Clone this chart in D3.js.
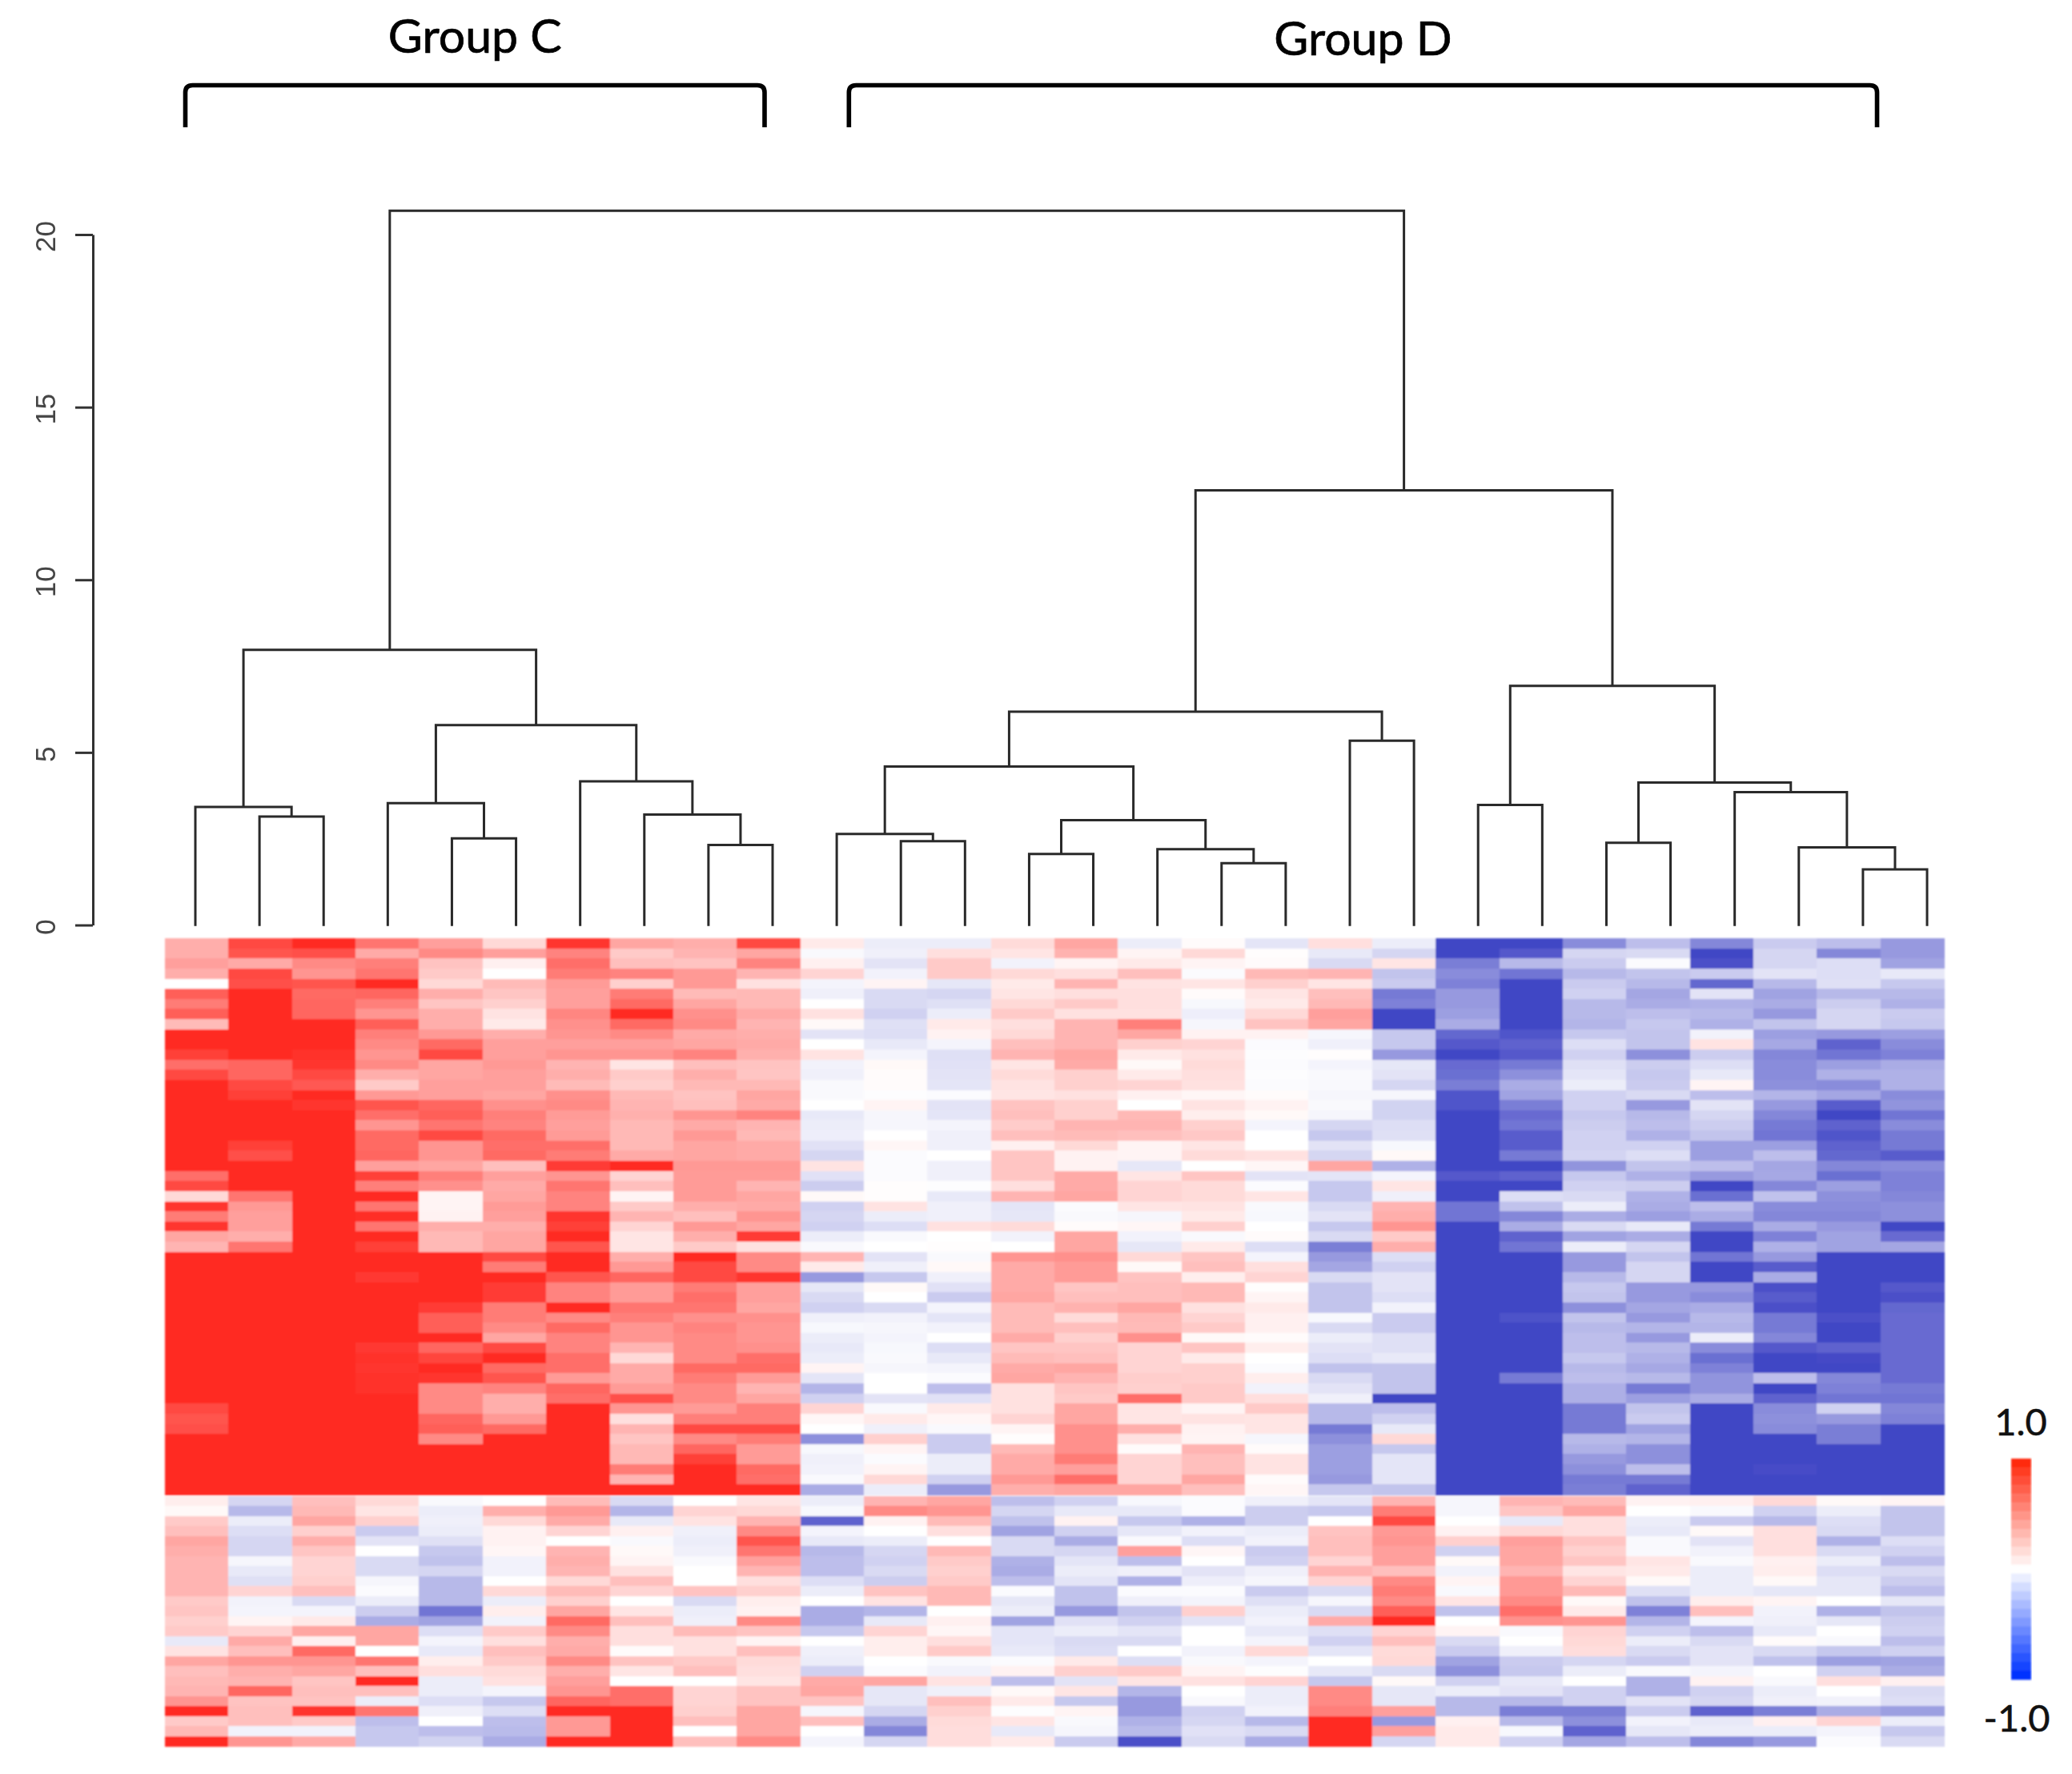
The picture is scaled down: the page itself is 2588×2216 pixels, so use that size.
<!DOCTYPE html>
<html>
<head>
<meta charset="utf-8">
<script src="https://cdnjs.cloudflare.com/ajax/libs/d3/7.8.5/d3.min.js"></script>
<style>html,body{margin:0;padding:0;background:#fff}svg{display:block}</style>
</head>
<body>
<svg id="chart"></svg>
<script>
// Heatmap values, one array per column: 55 rows of the upper block, then 25 of the lower block.
const c00=[.38,.38,.45,.38,0, .75,.62,.75,.32,1, 1,.9,.68,.85,1, 1,1,1,1,1, 1,1,1,.68,.85, .18,.95,.62,.95,.42, .35,1,1,1,1, 1,1,1,1,1, 1,1,1,1,1, 1,.85,.8,.82,1, 1,1,1,1,1,
 .08,.03,.25,.3,.42, .38,.35,.35,.35,.35, .25,.27,.22,.25,-.12, .13,.42,.3,.33,.35, .5,1,.25,.33,1];
const c01=[.85,.8,.4,.85,.82, 1,1,1,1,1, 1,1,.72,.72,.85, .9,1,1,1,1, .9,.82,1,1,1, .65,.48,.45,.45,.38, .65,1,1,1,1, 1,1,1,1,1, 1,1,1,1,1, 1,1,1,1,1, 1,1,1,1,1,
 -.22,-.38,-.1,-.18,-.22, -.22,-.05,-.12,-.17,.2, -.07,-.06,.05,.2,.4, .3,.5,.38,.35,.72, .28,.3,.3,-.07,.5];
const c02=[1,.82,.55,.5,.8, .7,.72,.72,1,1, 1,.97,.95,.85,.78, 1,.95,1,1,1, 1,1,1,1,1, 1,1,1,1,1, 1,1,1,1,1, 1,1,1,1,1, 1,1,1,1,1, 1,1,1,1,1, 1,1,1,1,1,
 .3,.33,.42,.22,.38, .27,.2,.2,.22,.3, -.2,-.06,.1,.42,.07, .7,.5,.42,.27,.3, .28,.95,.25,-.07,.4];
const c03=[.65,.4,.6,.65,1, .72,.6,.5,.75,.6, .55,.5,.55,.38,.25, .48,.8,.68,.5,.7, .7,.72,.45,.9,.6, 1,.65,.98,.65,1, .9,1,1,.93,1, 1,1,1,1,1, .93,.97,.95,.97,.97, 1,1,1,1,1, 1,1,1,1,1,
 .18,.12,.22,-.28,-.15, 0,-.2,-.2,-.05,-.02, -.1,-.27,-.45,.42,.42, 0,.65,.3,1,.3, -.1,.65,-.35,-.3,-.3];
const c04=[.45,.55,.28,.25,.18, .38,.27,.38,.38,.48, .7,.85,.42,.42,.45, .45,.72,.75,.65,.85, .5,.5,.42,.6,.52, .05,.05,.06,.38,.33, .33,1,1,1,1, 1,.92,.75,.75,1, .72,.88,1,.95,.55, .55,.55,.72,.75,.55, 1,1,1,1,1,
 -.03,-.1,-.08,-.1,-.17, -.3,-.33,-.22,-.38,-.38, -.38,-.75,-.5,-.18,-.06, -.12,.08,.15,-.1,-.1, -.18,-.08,0,-.35,-.24];
const c05=[.18,.45,.07,0,.32, .27,.22,.13,.1,.38, .45,.45,.48,.45,.45, .42,.52,.6,.58,.7, .68,.7,.3,.45,.4, .42,.47,.45,.38,.42, .42,.85,.62,1,.92, .92,.62,.62,.55,.42, .85,1,.7,.8,.58, .38,.38,.48,.7,1, 1,1,1,1,1,
 0,.38,.18,.06,.06, .04,-.07,-.07,0,.18, -.1,.08,-.07,.25,.15, .3,.25,.17,.14,-.06, -.3,-.18,-.35,-.37,-.45];
const c06=[.95,.58,.68,.62,.47, .45,.45,.57,.52,.5, .45,.5,.35,.38,.32, .52,.55,.47,.45,.47, .68,.62,.92,.5,.65, .58,.58,.95,.9,1, .8,1,1,.8,.58, .58,1,.55,.7,.58, .58,.68,.68,.47,.72, .68,1,1,1,1, 1,1,1,1,1,
 .32,.48,.4,.2,0, .35,.38,.35,.18,.32, .22,.42,.7,.55,.38, .4,.55,.38,.45,.5, .72,1,.48,.48,1];
const c07=[.42,.25,.3,.58,.22, .62,.7,1,.7,.55, .45,.5,.12,.25,.22, .33,.35,.37,.33,.33, .33,.4,1,.2,.3, .05,.25,.35,.2,.12, .12,.38,.48,.72,.47, .47,.65,.6,.5,.5, .35,.18,.4,.4,.47, .82,.5,.15,.35,.27, .33,.33,.62,.35,1,
 -.2,-.4,-.12,.07,-.03, .03,.05,.14,.3,.2, 0,.12,.3,.15,.15, .02,.28,.12,0,.68, .68,1,1,1,1];
const c08=[.38,.35,.28,.48,.48, .32,.42,.52,.55,.4, .42,.58,.3,.38,.33, .28,.3,.5,.4,.48, .42,.42,.48,.47,.47, .47,.38,.3,.48,.38, .25,1,.85,.85,.62, .68,.65,.52,.58,.55, .55,.55,.7,.62,.55, .55,.47,.6,.85,.55, .72,.9,1,1,1,
 0,.2,.13,-.08,-.1, -.08,-.03,0,0,.28, -.2,-.1,-.08,.32,.14, .14,.25,.3,0,.2, .2,.22,.3,0,.3];
const c09=[.85,.42,.58,.35,.14, .33,.33,.4,.35,.38, .4,.37,.28,.27,.33, .42,.4,.58,.35,.33, .4,.4,.48,.47,.35, .42,.4,.5,.42,.92, .14,.55,.55,.95,.45, .45,.42,.52,.5,.5, .52,.68,.7,.47,.35, .42,.6,.6,.85,.62, .47,.47,.7,.68,1,
 .12,.18,.35,.55,.8, .65,.45,.35,.15,.22, .08,.06,.55,.28,.05, .3,.17,.15,.12,.28, .28,.42,.42,.42,.55];
const c10=[.1,-.03,.07,.2,-.06, -.08,0,.14,.03,-.15, 0,.13,-.07,-.08,-.03, -.03,0,-.12,-.1,-.09, -.16,-.22,.13,-.16,-.27, .03,-.25,-.22,-.25,-.1, -.03,.35,.1,-.55,-.13, -.2,-.25,-.08,-.04,-.1, -.12,-.1,.05,-.14,-.4, -.25,.2,.04,0,-.6, -.04,-.08,-.07,-.03,-.45,
 -.1,-.04,-.85,-.06,-.12, -.38,-.35,-.35,-.18,-.1, 0,-.45,-.45,-.3,0, -.08,-.1,-.25,.4,.42, .28,-.05,.3,0,-.06];
const c11=[-.1,-.08,-.15,-.07,.05, -.2,-.2,-.25,-.17,-.18, -.12,-.06,.03,.02,.02, -.01,.05,-.05,-.05,0, .04,-.02,-.02,-.02,.01, .01,.13,-.1,-.18,-.03, 0,-.15,-.08,-.3,.03, 0,-.2,-.07,-.05,-.06, -.04,-.03,-.05,0,0, -.15,-.03,.1,-.08,.22, .05,-.02,.05,.18,-.1,
 .35,.55,.06,0,-.1, -.22,-.25,-.2,-.27,.28, .13,-.4,-.12,.2,.08, .08,0,-.02,.42,-.13, -.13,-.22,-.45,-.65,-.22];
const c12=[-.1,.15,.25,.25,-.13, -.22,-.17,-.1,.1,.06, -.06,-.17,-.16,-.15,-.14, -.02,-.15,-.14,-.06,-.08, -.08,0,-.08,-.08,-.01, -.12,-.08,-.08,.14,0, .01,-.03,.03,-.08,-.16, -.28,-.06,-.14,-.07,0, -.18,-.12,-.06,-.02,-.35, -.16,.1,.04,-.03,-.28, -.28,-.1,-.1,-.25,-.55,
 .42,.5,.32,.15,0, .33,.25,.22,.25,.33, .33,0,.07,.04,.15, .25,-.03,-.07,.13,-.08, .3,.22,.17,.16,.16];
const c13=[.17,.12,-.07,.18,.1, .12,.18,.25,.15,.18, .3,.35,.12,.17,.13, .12,.28,.3,.24,.3, .07,.27,.27,.27,.15, .35,-.14,-.13,.17,-.07, 0,.5,.4,.4,.4, .42,.32,.32,.32,.4, .27,.32,.4,.42,.14, .14,.14,.2,.05,.01, .33,.4,.4,.48,.38,
 -.35,-.22,-.33,-.5,-.2, -.2,-.42,-.45,-.35,-.02, -.13,-.1,-.5,-.14,-.14, -.12,-.02,.06,-.35,.03, .1,-.01,.12,-.12,.1];
const c14=[.42,.36,.05,.15,.35, .15,.25,.14,.35,.35, .35,.42,.4,.22,.22, .14,.22,.22,.35,.32, .18,.06,.06,.4,.4, .42,-.02,-.03,.02,.42, .42,.52,.47,.47,.27, .3,.36,.17,.3,.22, .27,.3,.42,.35,.27, .25,.42,.42,.52,.52, .52,.62,.45,.68,.42,
 -.25,-.12,.06,-.25,-.45, -.22,-.14,-.1,-.14,-.33, -.33,-.55,-.16,-.1,-.2, -.18,.1,.22,-.15,.12, -.3,.05,-.03,-.05,-.28];
const c15=[-.1,.05,.1,.3,.13, .15,.15,.14,.6,.42, .22,.1,.03,.1,.2, .07,0,.33,.35,.3, .05,.05,-.13,.12,.2, .2,.12,-.05,.04,-.07, -.13,.18,.03,.28,.3, .3,.42,.33,.32,.52, .2,.2,.2,.23,.22, .68,.12,.12,.38,.14, .02,.2,.2,.2,.42,
 -.04,-.12,-.3,-.13,-.03, .45,-.35,-.08,-.42,-.02, -.08,-.32,-.25,-.14,-.2, 0,-.18,.25,.12,-.4, -.55,-.55,-.42,-.37,-.95];
const c16=[.02,.18,.05,-.02,.12, .02,-.04,-.09,-.05,.06, .2,.14,.17,.15,.14, .04,.13,.08,.22,.26, .12,.17,0,.27,.17, .17,.13,.1,.22,-.03, .1,.27,.3,.08,.33, .33,.14,.2,.25,.03, .27,.1,.22,.22,.25, .25,.05,.13,.06,.05, .35,.3,.3,.42,.3,
 -.02,-.02,-.42,-.07,-.18, .04,0,-.15,-.09,-.02, -.06,.22,-.15,0,0, -.07,-.03,.05,.14,0, -.03,-.25,-.22,-.16,-.2];
const c17=[-.14,.01,.02,.33,.22, .12,.1,.18,.28,.06, -.02,-.01,-.02,-.01,-.02, .02,.06,.03,-.06,0, 0,.14,.04,-.15,-.02, .12,-.03,-.04,0,.02, -.18,-.06,.15,.2,.01, .05,.1,.07,.07,.02, .08,0,-.02,.08,-.07, .15,.25,.12,.12,-.05, .02,.13,.13,.02,.04,
 -.08,-.27,-.27,-.1,-.07, -.28,-.25,-.08,-.05,-.28, -.17,-.1,-.07,-.12,-.06, .18,-.06,-.01,.2,-.1, -.1,-.07,-.38,-.2,-.45];
const c18=[.15,-.12,-.2,.35,.12, .3,.33,.45,.42,-.05, -.08,.01,-.06,-.03,-.03, -.05,-.03,-.05,-.22,-.3, -.15,-.22,.42,-.14,-.3, -.3,-.2,-.15,-.3,-.2, -.7,-.55,-.48,-.2,-.32, -.32,-.32,-.04,-.2,-.1, -.15,-.18,-.33,-.2,-.15, -.08,-.38,-.38,-.72,-.6, -.52,-.52,-.52,-.55,-.3,
 -.14,-.3,0,.28,.3, .3,.2,.35,.2,-.2, -.05,-.2,.4,-.17,-.25, -.14,0,-.12,-.3,.55, .55,.6,1,1,1];
const c19=[-.1,-.22,.12,-.32,-.28, -.72,-.68,-1,-1,-.3, -.3,-.55,-.13,-.15,-.22, -.05,-.24,-.24,-.18,-.17, -.04,.03,-.42,-.06,.12, -.08,.35,.38,.5,.25, .38,-.18,-.25,-.15,-.15, -.18,-.07,-.28,-.28,-.17, -.17,-.12,-.32,-.32,-.32, -1,-.35,-.25,-.12,.18, -.3,-.14,-.14,-.14,-.32,
 .35,.62,.85,.48,.5, .45,.45,.3,.55,.62, .55,.75,1,.2,.3, .17,.18,-.2,.03,-.13, -.13,.45,-.55,.45,-.22];
const c20=[-1,-1,-.7,-.62,-.68, -.55,-.55,-.52,-.45,-.82, -.9,-1,-.8,-.78,-.7, -.92,-.92,-1,-1,-1, -1,-1,-1,-.9,-1, -1,-.75,-.75,-1,-1, -1,-1,-1,-1,-1, -1,-1,-1,-1,-1, -1,-1,-1,-1,-1, -1,-1,-1,-1,-1, -1,-1,-1,-1,-1,
 -.05,-.05,0,.06,.22, -.25,.03,-.07,.05,-.03, .12,-.33,0,.05,-.2, -.28,-.5,-.6,-.25,-.1, -.38,-.38,.07,.1,.1];
const c21=[-1,-.9,-.38,-.75,-1, -1,-1,-1,-1,-.92, -.85,-.9,-.72,-.6,-.45, -.5,-.7,-.8,-.75,-.88, -.88,-.72,-1,-.85,-1, -.18,-.33,-.65,-.45,-.85, -.75,-1,-1,-1,-1, -1,-1,-.93,-1,-1, -1,-1,-1,-.72,-1, -1,-1,-1,-1,-1, -1,-1,-1,-1,-1,
 .35,.27,-.12,.18,.45, .42,.42,.35,.48,.48, .55,.68,.52,-.03,0, -.08,-.28,-.3,-.12,-.15, -.38,-.7,-.38,-.04,-.25];
const c22=[-.62,-.22,-.28,-.38,-.28, -.25,-.38,-.38,-.4,-.3, -.18,-.25,-.17,-.14,-.1, -.25,-.25,-.3,-.27,-.25, -.25,-.23,-.58,-.3,-.25, -.2,-.1,-.45,-.2,-.5, -.1,-.55,-.55,-.38,-.3, -.32,-.6,-.32,-.38,-.35, -.35,-.3,-.38,-.35,-.43, -.43,-.72,-.72,-.72,-.38, -.42,-.55,-.6,-.72,-.7,
 .32,.42,.15,.15,.27, .22,.27,.12,.2,.33, .03,.1,.5,.2,.18, .16,-.22,-.1,0,-.25, -.25,-.7,-.6,-.85,-.48];
const c23=[-.35,-.2,-.02,-.32,-.38, -.48,-.45,-.35,-.3,-.32, -.32,-.6,-.27,-.3,-.28, -.2,-.55,-.38,-.35,-.42, -.25,-.18,-.32,-.42,-.27, -.42,-.45,-.52,-.12,-.45, -.22,-.32,-.22,-.22,-.55, -.55,-.48,-.55,-.4,-.55, -.38,-.42,-.47,-.38,-.72, -.52,-.32,-.28,-.5,-.4, -.6,-.6,-.35,-.72,-.85,
 .06,0,-.1,-.12,-.03, -.03,.12,.1,.03,-.17, -.33,-.68,-.4,-.25,-.1, -.2,-.28,-.03,-.42,-.42, -.15,-.28,-.07,-.13,-.35];
const c24=[-.65,-1,-.95,-.28,-.82, -.15,-.42,-.38,-.42,-.07, .13,-.27,-.18,-.12,.05, -.35,-.15,-.22,-.27,-.32, -.52,-.52,-.35,-.55,-1, -.78,-.35,-.45,-.72,-1, -1,-.75,-1,-1,-.55, -.62,-.45,-.38,-.4,-.1, -.62,-.78,-.68,-.58,-.58, -.45,-1,-1,-1,-1, -1,-1,-1,-1,-1,
 .07,-.03,-.28,.03,-.15, -.07,-.03,-.1,-.1,-.1, .08,.3,-.06,-.35,-.2, -.15,-.15,-.06,.06,-.25, -.22,-.85,-.12,-.1,-.65];
const c25=[-.28,-.22,-.22,-.15,-.38, -.5,-.45,-.55,-.32,-.52, -.47,-.65,-.62,-.62,-.6, -.4,-.55,-.65,-.72,-.75, -.52,-.35,-.48,-.47,-.65, -.33,-.62,-.65,-.45,-.68, -.42,-.55,-.88,-.45,-.95, -.88,-.95,-.72,-.72,-.65, -.9,-1,-1,-.35,-1, -.85,-.62,-.6,-.62,-1, -1,-1,-.97,-1,-1,
 .18,-.25,-.38,.15,.15, .15,.07,.08,.03,-.13, .05,-.07,-.08,-.12,.02, -.2,-.33,0,-.03,-.1, -.08,-.7,.07,-.1,-.55];
const c26=[-.35,-.65,-.18,-.18,-.17, -.38,-.27,-.22,-.22,-.55, -.85,-.75,-.52,-.42,-.62, -.48,-.88,-1,-.85,-.92, -.85,-.82,-.65,-.78,-.52, -.6,-.62,-.65,-.55,-.5, -.5,-1,-1,-1,-1, -1,-1,-.95,-1,-1, -.85,-.98,-1,-.65,-.68, -.75,-.25,-.55,-.7,-.7, -1,-1,-1,-1,-1,
 .03,-.1,-.18,-.2,-.42, -.2,-.1,-.18,-.13,-.13, 0,-.42,-.13,0,-.03, -.3,-.52,-.25,.15,0, -.07,-.45,.2,-.06,-.02];
const c27=[-.55,-.55,-.5,-.12,-.3, -.38,-.42,-.28,-.3,-.52, -.62,-.68,-.45,-.42,-.42, -.62,-.58,-.75,-.62,-.72, -.72,-.88,-.62,-.68,-.68, -.65,-.6,-.6,-1,-.8, -.48,-1,-1,-1,-.9, -.95,-.82,-.8,-.8,-.8, -.8,-.8,-.8,-.8,-.72, -.75,-.65,-.68,-1,-1, -1,-1,-1,-1,-1,
 .05,-.32,-.32,-.32,-.18, -.25,-.35,-.2,-.27,-.35, -.13,-.32,-.27,-.25,-.35, -.25,-.5,-.45,.07,-.2, -.18,-.52,-.1,-.3,-.2];
const columns=[c00,c01,c02,c03,c04,c05,c06,c07,c08,c09,c10,c11,c12,c13,c14,c15,c16,c17,c18,c19,c20,c21,c22,c23,c24,c25,c26,c27];

// Dendrogram: [height, left, right]; a bare number is a leaf (column index).
const groupCTree=[7.97,[3.42,0,[3.14,1,2]],[5.79,[3.53,3,[2.51,4,5]],[4.16,6,[3.2,7,[2.32,8,9]]]]];
const groupDLeftTree=[6.18,[4.59,[2.64,10,[2.43,11,12]],[3.04,[2.06,13,14],[2.2,15,[1.79,16,17]]]],[5.34,18,19]];
const groupDRightTree=[6.93,[3.48,20,21],[4.13,[2.38,22,23],[3.85,24,[2.25,25,[1.61,26,27]]]]];
const rootTree=[20.69,groupCTree,[12.59,groupDLeftTree,groupDRightTree]];

const axisTicks=[0,5,10,15,20];
const groupNames=["Group C","Group D"];
const groupSpans=[[-.156,8.875],[10.19,26.22]];
const legendLabels=["1.0","-1.0"];
const upperRowCount=55, lowerRowCount=25, legendSteps=25;

const W=2588,H=2216;
const svg=d3.select("#chart").attr("width",W).attr("height",H).attr("viewBox",[0,0,W,H]);
const defs=svg.append("defs");
defs.append("filter").attr("id","soft").attr("x","-2%").attr("y","-2%").attr("width","104%").attr("height","104%")
  .append("feGaussianBlur").attr("stdDeviation",1.1);
defs.append("filter").attr("id","softLine").attr("filterUnits","userSpaceOnUse").attr("x",-400).attr("y",-100).attr("width",W+800).attr("height",H+200)
  .append("feGaussianBlur").attr("stdDeviation",0.7);

// Scales
const heat=d3.scaleLinear().domain([-1,0,1]).range(["#4146C5","#ffffff","#FF2A22"]).clamp(true);
const xCol=d3.scaleBand().domain(d3.range(columns.length)).range([206,2428]).paddingInner(0).paddingOuter(0);
const yUpper=d3.scaleBand().domain(d3.range(upperRowCount)).range([1172,1867]);
const yLower=d3.scaleBand().domain(d3.range(lowerRowCount)).range([1868.5,2181]);
const xLeaf=d3.scaleLinear().domain([0,27]).range([244,2407]);
const yH=d3.scaleLinear().domain([0,20]).range([1155.5,293]);

// Heatmap
const cells=[];
columns.forEach((col,c)=>col.forEach((v,i)=>cells.push({c,i,v})));
svg.append("g").attr("filter","url(#soft)").attr("shape-rendering","crispEdges").selectAll("rect").data(cells).join("rect")
  .attr("x",d=>xCol(d.c))
  .attr("width",xCol.bandwidth()+.6)
  .attr("y",d=>d.i<upperRowCount?yUpper(d.i):yLower(d.i-upperRowCount))
  .attr("height",d=>(d.i<upperRowCount?yUpper.bandwidth():yLower.bandwidth())+.5)
  .attr("fill",d=>heat(d.v));

// Dendrogram
const root=d3.hierarchy(rootTree,d=>Array.isArray(d)?d.slice(1):null);
root.eachAfter(n=>{
  if(n.children){n.px=(n.children[0].px+n.children[1].px)/2;n.h=n.data[0];}
  else{n.px=xLeaf(n.data);n.h=-0.03;}
});
const dendro=svg.append("g").attr("filter","url(#softLine)").attr("fill","none").attr("stroke","#2a2a2a").attr("stroke-width",3);
dendro.selectAll("path").data(root.descendants().filter(n=>n.children)).join("path")
  .attr("d",n=>{
    const [a,b]=n.children;
    return `M${a.px},${yH(a.h)}V${yH(n.h)}H${b.px}V${yH(b.h)}`;
  });

// Height axis
const axis=svg.append("g").attr("transform","translate(116,0)").attr("filter","url(#softLine)")
  .call(d3.axisLeft(yH).tickValues(axisTicks).tickSize(22).tickSizeOuter(0).tickPadding(0));
axis.select(".domain").attr("stroke","#333").attr("stroke-width",3);
axis.selectAll(".tick line").attr("stroke","#333").attr("stroke-width",3);
axis.selectAll(".tick text")
  .attr("x",null)
  .attr("transform","translate(-60,2) rotate(-90)")
  .attr("text-anchor","middle").attr("dy",".36em")
  .attr("font-family","'Liberation Sans',Arial,sans-serif").attr("font-size",35).attr("fill","#444");

// Group brackets
const r=9;
const brackets=svg.append("g").selectAll("g").data(groupNames.map((name,i)=>({name,span:groupSpans[i],i}))).join("g");
brackets.append("path").attr("fill","none").attr("stroke","#000").attr("stroke-width",5.6).attr("filter","url(#softLine)")
  .attr("d",d=>{
    const a=xLeaf(d.span[0]),b=xLeaf(d.span[1]);
    return `M${a},159V${106.5+r}Q${a},106.5 ${a+r},106.5H${b-r}Q${b},106.5 ${b},${106.5+r}V159`;
  });
brackets.append("text")
  .attr("x",d=>xLeaf((d.span[0]+d.span[1])/2))
  .attr("y",d=>d.i===0?66:69)
  .attr("text-anchor","middle")
  .attr("font-family","Lato,'Open Sans',sans-serif").attr("font-size",59).attr("fill","#000")
  .attr("stroke","#000").attr("stroke-width",.7)
  .text(d=>d.name);

// Colour key
const legendColor=d3.scaleLinear().domain([-1,0,1]).range(["#0033FF","#ffffff","#FF2A10"]);
const yKey=d3.scaleBand().domain(d3.range(legendSteps)).range([1822,2098]);
svg.append("g").attr("filter","url(#soft)").selectAll("rect").data(d3.range(legendSteps)).join("rect")
  .attr("x",2512).attr("width",25)
  .attr("y",i=>yKey(i)).attr("height",yKey.bandwidth()+.3)
  .attr("fill",i=>legendColor(1-2*i/(legendSteps-1)));
svg.append("g").selectAll("text").data(legendLabels).join("text")
  .attr("x",(d,i)=>i===0?2524:2519)
  .attr("y",(d,i)=>i===0?1793:2163)
  .attr("text-anchor","middle")
  .attr("font-family","Lato,'Open Sans',sans-serif").attr("font-size",47).attr("fill","#111")
  .attr("stroke","#111").attr("stroke-width",.5)
  .text(d=>d);
</script>
</body>
</html>
